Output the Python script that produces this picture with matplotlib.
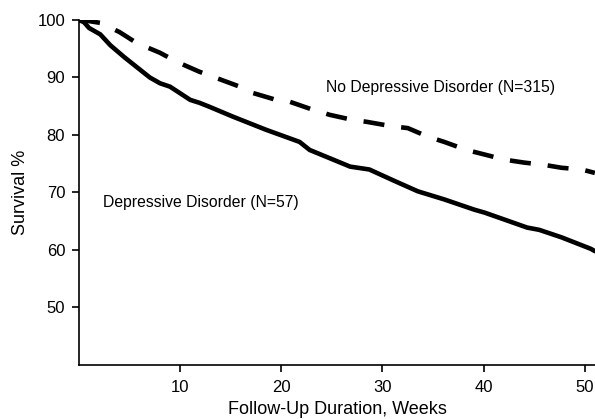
import matplotlib
matplotlib.use("Agg")
import matplotlib.pyplot as plt

plt.rcParams['font.family'] = ['Liberation Sans', 'DejaVu Sans']

# Depressive disorder (solid)
dep_weeks = [0, 0.5, 1.0, 2.1, 3.1, 4.5, 7.0, 8.0, 9.0, 11.0, 11.9, 12.9, 15.2, 18.5,
             21.8, 22.8, 26.8, 28.7, 31.2, 33.5, 36.1, 39.1, 40.1, 44.3, 45.5, 47.7, 50.6, 51]
dep_surv = [100, 99.6, 98.6, 97.5, 95.6, 93.5, 90.0, 89.0, 88.4, 86.1, 85.6, 84.9, 83.2, 80.9,
            78.8, 77.4, 74.5, 74.0, 72.0, 70.2, 68.8, 67.0, 66.5, 63.9, 63.5, 62.2, 60.2, 59.8]

# No depressive disorder (dashed)
nodep_weeks = [0, 1.0, 2.1, 4.0, 5.7, 8.0, 9.7, 11.9, 15.9, 17.2, 19.5, 20.8, 23.1, 24.8,
               27.1, 28.4, 31.0, 32.5, 34.5, 36.1, 38.3, 40.1, 42.1, 44.0, 46.0, 47.7, 49.7, 51]
nodep_surv = [100, 99.8, 99.5, 97.9, 96.0, 94.3, 92.7, 91.0, 88.4, 87.3, 86.1, 85.8, 84.4, 83.5,
              82.6, 82.3, 81.5, 81.2, 79.7, 78.8, 77.4, 76.6, 75.7, 75.2, 74.8, 74.3, 74.0, 73.4]

x_ticks = [10, 20, 30, 40, 50]
y_ticks = [50, 60, 70, 80, 90, 100]

fig = plt.figure(figsize=(5.95, 4.19), dpi=100)
ax = fig.add_axes([0.1328, 0.1289, 0.867, 0.8234])

ax.plot(dep_weeks, dep_surv, color='black', lw=3.3, solid_capstyle='round', solid_joinstyle='round')
ax.plot(nodep_weeks, nodep_surv, color='black', lw=3.3, linestyle=(0, (4.6, 3.7)))

ax.set_xlim(0, 51)
ax.set_ylim(40, 100)
ax.set_xticks(x_ticks)
ax.set_yticks(y_ticks)
ax.tick_params(axis='both', labelsize=12, direction='out', length=5, width=1.2)
ax.tick_params(axis='y', pad=5)
ax.tick_params(axis='x', pad=6)
for s in ['top', 'right']:
    ax.spines[s].set_visible(False)
for s in ['left', 'bottom']:
    ax.spines[s].set_linewidth(1.2)

ax.set_xlabel('Follow-Up Duration, Weeks', fontsize=13, labelpad=4)
ax.set_ylabel('Survival %', fontsize=13, labelpad=6)

ax.text(24.4, 88.2, 'No Depressive Disorder (N=315)', fontsize=11.3, va='center', ha='left')
ax.text(2.4, 68.3, 'Depressive Disorder (N=57)', fontsize=11.3, va='center', ha='left')

fig.savefig('out.png', dpi=100)
